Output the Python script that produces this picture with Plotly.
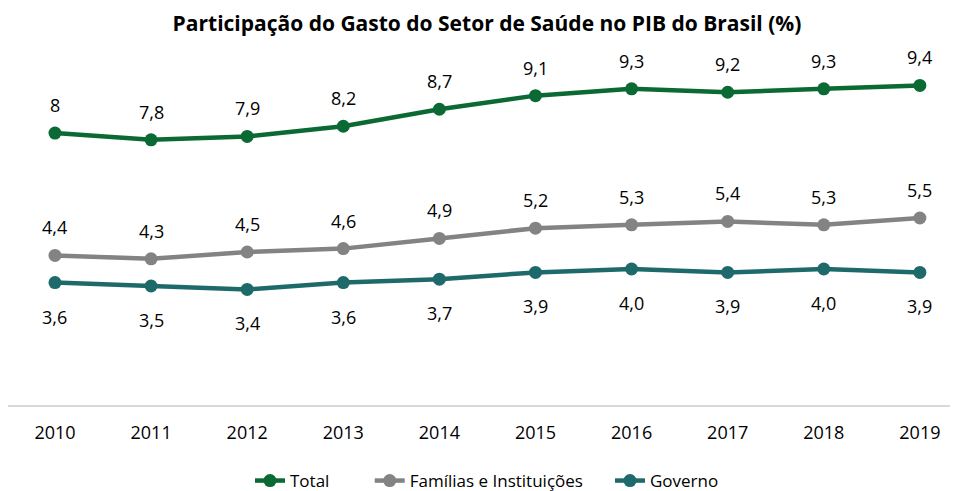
import plotly.graph_objects as go

anos = ["2010", "2011", "2012", "2013", "2014", "2015", "2016", "2017", "2018", "2019"]
total = [8.0, 7.8, 7.9, 8.2, 8.7, 9.1, 9.3, 9.2, 9.3, 9.4]
familias = [4.4, 4.3, 4.5, 4.6, 4.9, 5.2, 5.3, 5.4, 5.3, 5.5]
governo = [3.6, 3.5, 3.4, 3.6, 3.7, 3.9, 4.0, 3.9, 4.0, 3.9]
total_txt = ["8", "7,8", "7,9", "8,2", "8,7", "9,1", "9,3", "9,2", "9,3", "9,4"]
familias_txt = ["4,4", "4,3", "4,5", "4,6", "4,9", "5,2", "5,3", "5,4", "5,3", "5,5"]
governo_txt = ["3,6", "3,5", "3,4", "3,6", "3,7", "3,9", "4,0", "3,9", "4,0", "3,9"]

FONT = "Open Sans"
NB = "\u00a0"
fig = go.Figure()
series = [
    ("Total", NB * 8, total, total_txt, "#0B6A34", 28),
    ("Famílias e Instituições", NB * 5, familias, familias_txt, "#838383", 28),
    ("Governo", "", governo, governo_txt, "#1E6A6B", -34),
]
annotations = []
for name, pad, ys, txt, col, shift in series:
    fig.add_trace(go.Scatter(
        x=anos, y=ys, name=name + pad, mode="lines+markers",
        line=dict(color=col, width=4.5),
        marker=dict(color=col, size=13),
    ))
    for i, (yv, tv) in enumerate(zip(ys, txt)):
        annotations.append(dict(x=i, y=yv, xref="x", yref="y", text=tv,
                                showarrow=False, yshift=shift,
                                font=dict(size=18, color="#000000", family=FONT)))

fig.update_layout(
    width=958, height=491,
    paper_bgcolor="white", plot_bgcolor="white",
    margin=dict(l=0, r=0, t=55, b=93),
    annotations=annotations,
    title=dict(text="<b>Participação do Gasto do Setor de Saúde no PIB do Brasil (%)</b>",
               x=0.5, xanchor="center", y=1 - 16 / 491, yanchor="middle",
               font=dict(size=21, color="#000000", family=FONT)),
    font=dict(family=FONT, size=17, color="#000000"),
    xaxis=dict(type="category", range=[-0.489, 9.48], showgrid=False,
               showline=True, linecolor="#D9D9D9", linewidth=2,
               ticks="", ticklabelstandoff=10,
               tickfont=dict(size=18, color="#000000", family=FONT)),
    yaxis=dict(range=[0, 10.06], visible=False),
    legend=dict(orientation="h", x=0.5, xanchor="center", y=-0.17, yanchor="top",
                font=dict(size=17, color="#000000", family=FONT)),
)
fig.write_html("out.html")
